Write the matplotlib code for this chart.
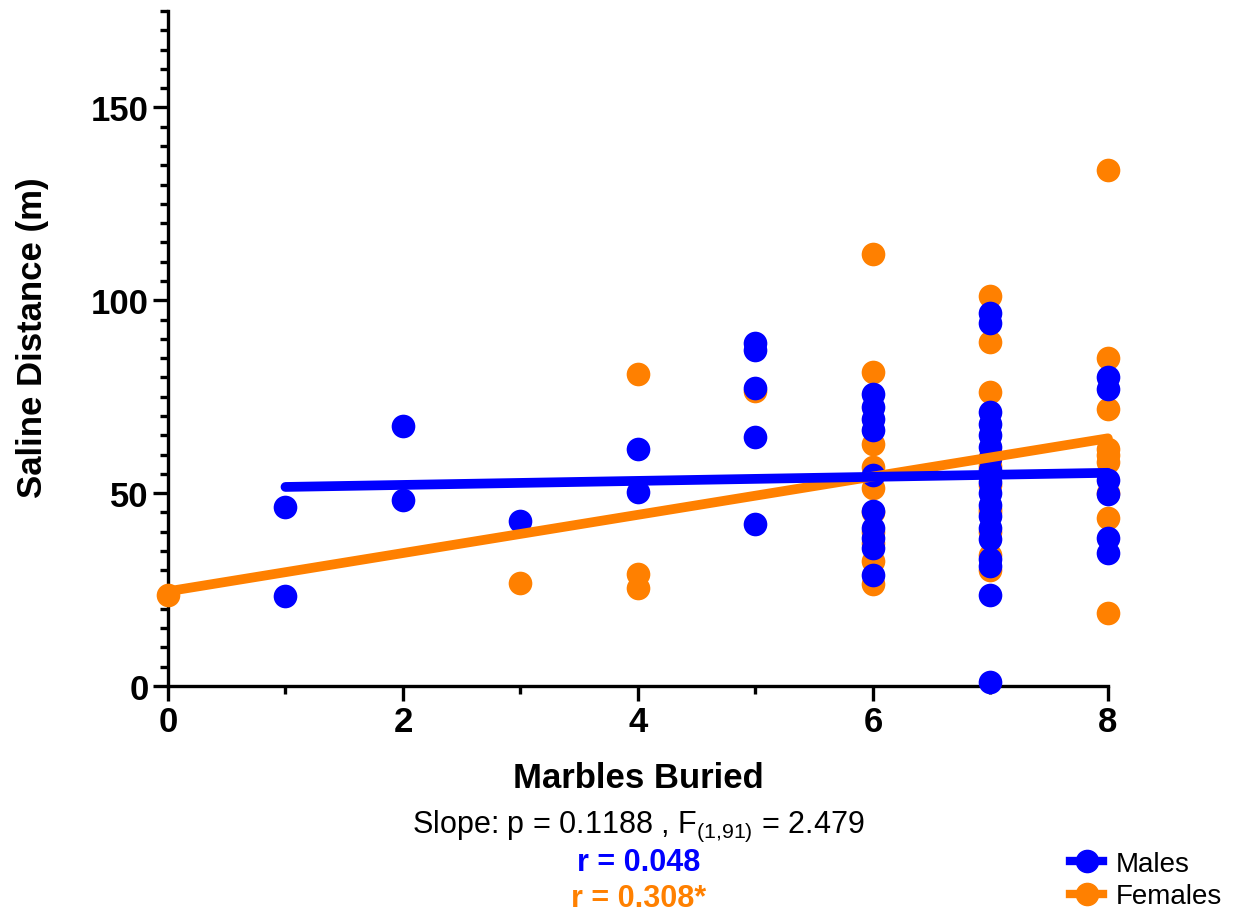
import numpy as np
import matplotlib.pyplot as plt
from matplotlib.lines import Line2D

plt.rcParams['font.family'] = ['Liberation Sans', 'DejaVu Sans']
plt.rcParams['mathtext.fontset'] = 'custom'
plt.rcParams['mathtext.rm'] = 'Liberation Sans'
plt.rcParams['mathtext.default'] = 'regular'

BLEU = '#0000FF'
ORANGE = '#FF8000'

# Marbles buried (x) et distance parcourue (y), males
males_x = [1, 1, 2, 2, 3, 4, 4, 5, 5, 5, 5, 5,
           6, 6, 6, 6, 6, 6, 6, 6, 6, 6,
           7, 7, 7, 7, 7, 7, 7, 7, 7, 7, 7, 7, 7, 7, 7, 7, 7, 7,
           8, 8, 8, 8, 8, 8]
males_y = [46.5, 23.2, 67.4, 48.3, 42.8, 61.4, 50.4, 88.8, 87.2, 77.3, 64.5, 42.0,
           75.8, 72.3, 69.3, 66.3, 54.6, 45.4, 41.0, 38.4, 35.8, 28.8,
           96.7, 94.0, 71.0, 68.0, 65.0, 62.0, 59.0, 56.0, 53.0, 50.0, 47.0,
           44.0, 41.0, 38.0, 33.0, 31.0, 23.5, 1.0,
           80.2, 77.1, 53.3, 49.7, 38.4, 34.5]

# Femelles (certaines sont cachées sous les points bleus)
femelles_x = [0, 3, 4, 4, 4, 5,
              6, 6, 6, 6, 6, 6, 6, 6, 6, 6,
              7, 7, 7, 7, 7, 7, 7, 7, 7, 7, 7,
              8, 8, 8, 8, 8, 8, 8, 8, 8]
femelles_y = [23.5, 26.6, 81.0, 29.0, 25.3, 76.5,
              112.0, 81.5, 62.7, 56.7, 51.4, 45.0, 40.0, 37.0, 32.4, 26.4,
              101.0, 89.3, 76.2, 59.0, 57.0, 52.0, 46.0, 45.0, 40.0, 34.0, 30.0,
              133.7, 85.0, 71.9, 61.4, 60.0, 58.0, 50.0, 43.6, 18.8]

r_males = 0.048
r_femelles = 0.308


def droite(x, y):
    # régression linéaire simple sur l'étendue des données
    pente, origine = np.polyfit(x, y, 1)
    xs = np.array([min(x), max(x)])
    return xs, pente * xs + origine


fig = plt.figure(figsize=(12.49, 9.2), dpi=100)
ax = fig.add_axes([0.1345, 0.2533, 0.7525, 0.7337])

ax.scatter(femelles_x, femelles_y, s=290, color=ORANGE, zorder=3, clip_on=False, linewidths=0)
ax.scatter(males_x, males_y, s=290, color=BLEU, zorder=4, clip_on=False, linewidths=0)

xf, yf = droite(femelles_x, femelles_y)
ax.plot(xf, yf, color=ORANGE, lw=7, solid_capstyle='round', zorder=5, clip_on=False)
xm, ym = droite(males_x, males_y)
ax.plot(xm, ym, color=BLEU, lw=7, solid_capstyle='round', zorder=5, clip_on=False)

ax.set_xlim(0, 8)
ax.set_ylim(0, 175)
ax.set_xticks([0, 2, 4, 6, 8])
ax.set_xticks([1, 3, 5, 7], minor=True)
ax.set_yticks([0, 50, 100, 150])
ax.set_yticks(np.arange(0, 176, 5), minor=True)

for s in ['top', 'right']:
    ax.spines[s].set_visible(False)
for s in ['left', 'bottom']:
    ax.spines[s].set_linewidth(2.4)
ax.tick_params(which='major', length=11, width=2.4, labelsize=25, pad=3)
ax.tick_params(which='minor', length=6, width=2.4)
for lab in ax.get_xticklabels() + ax.get_yticklabels():
    lab.set_fontweight('bold')

ax.set_xlabel('Marbles Buried', fontsize=25, fontweight='bold')
ax.set_ylabel('Saline Distance (m)', fontsize=25, fontweight='bold')
ax.xaxis.set_label_coords(0.5, -0.111)
ax.yaxis.set_label_coords(-0.127, 0.517)

# Statistiques sous le graphique
fig.text(0.511, 0.1022, r'Slope: p = 0.1188 , F$_{(1{,}91)}$ = 2.479', fontsize=22, ha='center', va='center')
fig.text(0.511, 0.062, f'r = {r_males:.3f}', color=BLEU, fontsize=22, fontweight='bold', ha='center', va='center')
fig.text(0.511, 0.0228, f'r = {r_femelles:.3f}*', color=ORANGE, fontsize=22, fontweight='bold', ha='center', va='center')

poignees = [Line2D([], [], color=BLEU, marker='o', markersize=16, lw=6),
            Line2D([], [], color=ORANGE, marker='o', markersize=16, lw=6)]
fig.legend(poignees, ['Males', 'Females'], loc='center left', bbox_to_anchor=(1070 / 1249, 39 / 920),
           frameon=False, fontsize=20, handlelength=1.2, handletextpad=0.45, labelspacing=0.25,
           borderpad=0, borderaxespad=0)

fig.savefig('out.png', dpi=100)
